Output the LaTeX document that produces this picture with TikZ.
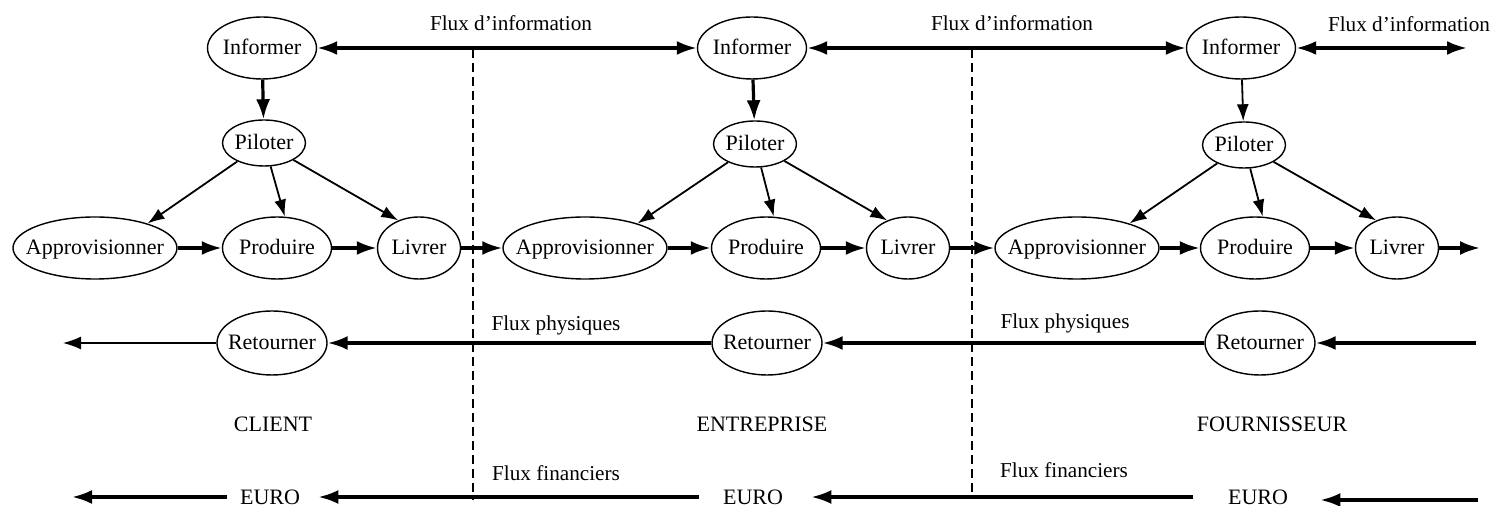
\documentclass[tikz,border=0pt]{standalone}
\usepackage{fontspec}
\setmainfont{Liberation Serif}
\usetikzlibrary{arrows.meta,shapes.geometric}
\newcommand\zb[1]{\makebox[0pt]{#1}}
\begin{document}
\begin{tikzpicture}[x=0.5pt,y=-0.5pt,
  el/.style={draw, ellipse, line width=0.7pt, inner sep=0pt, text height=7.5pt, text depth=1pt, font=\fontsize{11}{13}\selectfont},
  inf/.style={el, minimum width=54.5pt, minimum height=31pt},
  pil/.style={el, minimum width=41.5pt, minimum height=23pt},
  app/.style={el, minimum width=82pt, minimum height=31pt},
  pro/.style={el, minimum width=54.5pt, minimum height=31pt},
  liv/.style={el, minimum width=41.5pt, minimum height=31pt},
  ret/.style={el, minimum width=55pt, minimum height=32pt},
  txt/.style={inner sep=0pt, font=\fontsize{11}{13}\selectfont},
  flux/.style={inner sep=0pt, font=\fontsize{10.6}{12}\selectfont},
  thk/.style={line width=1.6pt, arrows={-Latex[length=10pt,width=7pt]}},
  thkboth/.style={line width=1.6pt, arrows={Latex[length=10pt,width=7pt]-Latex[length=10pt,width=7pt]}},
  thn/.style={line width=0.9pt, arrows={-Latex[length=8.5pt,width=6pt]}},
  thinline/.style={line width=0.7pt, arrows={-Latex[length=9pt,width=6.5pt]}},
  sep/.style={line width=0.6pt, dash pattern=on 4.5pt off 2.5pt}]
\useasboundingbox (0,0) rectangle (1500,506);

% separators
\coordinate (s1t) at (473,49);
\coordinate (s1b) at (473,500);
\coordinate (s2t) at (972,49);
\coordinate (s2b) at (972,495);
\draw[sep] (s1t) -- (s1b);
\draw[sep] (s2t) -- (s2b);

% group 1 : client
\node[inf] (I1) at (262,48) {\zb{Informer}};
\node[pil] (P1) at (264,143) {\zb{Piloter}};
\node[app] (A1) at (95,248) {\zb{Approvisionner}};
\node[pro] (R1p) at (277,248) {\zb{Produire}};
\node[liv] (L1) at (419,248) {\zb{Livrer}};

% group 2 : entreprise
\node[inf] (I2) at (752,48) {\zb{Informer}};
\node[pil] (P2) at (755,144) {\zb{Piloter}};
\node[app] (A2) at (585,248) {\zb{Approvisionner}};
\node[pro] (R2p) at (766,248) {\zb{Produire}};
\node[liv] (L2) at (908,248) {\zb{Livrer}};

% group 3 : fournisseur
\node[inf] (I3) at (1241,48) {\zb{Informer}};
\node[pil] (P3) at (1244,145) {\zb{Piloter}};
\node[app] (A3) at (1077,248) {\zb{Approvisionner}};
\node[pro] (R3p) at (1255,248) {\zb{Produire}};
\node[liv] (L3) at (1397,248) {\zb{Livrer}};

% information flows
\coordinate (iout) at (1467,48);
\draw[thkboth] (I1) -- (I2);
\draw[thkboth] (I2) -- (I3);
\draw[thkboth] (I3) -- (iout);

% internal arrows
\draw[thk] (I1) -- (P1);
\draw[thk] (I2) -- (P2);
\draw[thn] (I3) -- (P3);
\foreach \g in {1,2,3}{
  \draw[thn] (P\g) -- (A\g.25);
  \draw[thn] (P\g) -- (R\g p.76);
  \draw[thn] (P\g) -- (L\g.127);
  \draw[thk] (A\g) -- (R\g p);
  \draw[thk] (R\g p) -- (L\g);
}
\coordinate (pout) at (1480,248);
\draw[thk] (L1) -- (A2);
\draw[thk] (L2) -- (A3);
\draw[thk] (L3) -- (pout);

% returns
\node[ret] (T1) at (272,343) {\zb{Retourner}};
\node[ret] (T2) at (767,343) {\zb{Retourner}};
\node[ret] (T3) at (1260,343) {\zb{Retourner}};
\coordinate (tin) at (1476,343);
\coordinate (tout) at (63,343);
\draw[thk] (tin) -- (T3);
\draw[thk] (T3) -- (T2);
\draw[thk] (T2) -- (T1);
\draw[thinline] (T1) -- (tout);

% actors
\node[txt] (c1) at (273,424) {CLIENT};
\node[txt] (c2) at (762,424) {ENTREPRISE};
\node[txt] (c3) at (1272,424) {FOURNISSEUR};

% money
\node[txt] (E1) at (270,497) {EURO};
\node[txt] (E2) at (753,497) {EURO};
\node[txt] (E3) at (1258,497) {EURO};
\coordinate (ein) at (1478,500);
\coordinate (eout) at (72,497);
\draw[thk, shorten >=16pt] (ein) -- (E3.east |- ein);
\draw[thk, shorten <=17.5pt, shorten >=14pt] (E3) -- (E2);
\draw[thk, shorten <=12pt, shorten >=9pt] (E2) -- (E1);
\draw[thk, shorten <=6.5pt] (E1) -- (eout);

% labels
\node[flux] (f1) at (511,23) {Flux d’information};
\node[flux] (f2) at (1012,23) {Flux d’information};
\node[flux] (f3) at (1409,24) {Flux d’information};
\node[flux] (g1) at (556,325) {Flux physiques};
\node[flux] (g2) at (1065,323) {Flux physiques};
\node[flux] (h1) at (556,473) {Flux financiers};
\node[flux] (h2) at (1064,470) {Flux financiers};
\end{tikzpicture}
\end{document}
